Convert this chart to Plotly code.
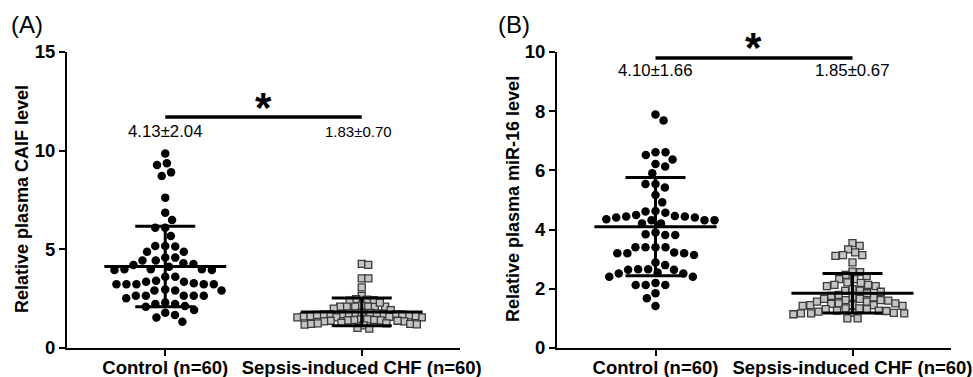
import numpy as np
import plotly.graph_objects as go

categories = ["Control (n=60)", "Sepsis-induced CHF (n=60)"]

caif_control = [9.86, 9.36, 9.27, 8.72, 8.90, 7.62, 6.86, 6.49, 6.10, 6.10,
                5.68, 5.17, 5.14, 5.17, 4.88, 4.88, 4.59, 4.58, 4.43, 4.43,
                4.29, 4.21, 4.26, 3.99, 3.99, 3.95, 3.95, 3.99, 4.12, 3.61,
                3.61, 3.36, 3.36, 3.28, 3.23, 3.23, 3.23, 3.23, 3.23, 3.41,
                2.91, 2.91, 2.97, 2.91, 2.65, 2.65, 2.52, 2.65, 2.65, 2.65,
                2.30, 2.23, 2.13, 2.23, 1.93, 1.79, 1.67, 1.55, 1.33, 2.09]
caif_chf = [4.26, 4.21, 3.53, 3.53, 3.07, 2.64, 2.47, 2.40, 2.45, 2.43,
            2.15, 2.10, 2.10, 2.10, 2.08, 2.10, 2.10, 2.30, 2.00, 1.92,
            1.75, 1.75, 1.72, 1.72, 1.70, 1.78, 1.78, 1.75, 1.72, 1.70,
            1.55, 1.55, 1.55, 1.58, 1.60, 1.62, 1.62, 1.65, 1.68, 1.70,
            1.45, 1.42, 1.40, 1.38, 1.35, 1.35, 1.38, 1.40, 1.42, 1.45,
            1.22, 1.20, 1.18, 1.22, 1.25, 1.25, 1.28, 1.15, 1.02, 0.98]
mir16_control = [7.89, 7.69, 6.61, 6.52, 6.61, 6.37, 6.22, 6.13, 5.90, 5.54,
                 5.54, 5.42, 5.17, 4.92, 4.57, 4.61, 4.63, 4.46, 4.44, 4.41,
                 4.32, 4.32, 4.21, 4.21, 4.32, 4.35, 4.41, 4.44, 4.49, 3.90,
                 3.82, 3.82, 3.84, 3.40, 3.40, 3.40, 3.40, 3.23, 3.20, 3.14,
                 3.20, 3.20, 2.89, 2.80, 2.64, 2.66, 2.66, 2.64, 2.52, 2.41,
                 2.41, 2.52, 2.13, 2.13, 2.20, 2.13, 1.85, 1.68, 1.42, 2.55]
mir16_chf = [3.54, 3.33, 3.45, 3.23, 3.14, 3.14, 3.11, 2.89, 2.56, 2.58,
             2.47, 2.33, 2.33, 2.43, 2.22, 2.13, 2.09, 2.09, 2.13, 2.20,
             1.99, 1.93, 1.79, 1.73, 1.76, 1.90, 1.94, 1.66, 1.62, 1.60,
             1.57, 1.51, 1.45, 1.45, 1.42, 1.42, 1.45, 1.49, 1.51, 1.57,
             1.62, 1.66, 1.71, 1.34, 1.31, 1.26, 1.23, 1.17, 1.14, 1.17,
             1.19, 1.17, 1.19, 1.25, 1.26, 1.31, 1.34, 1.00, 1.00, 1.85]

caif_mean = [4.13, 1.83]
caif_sd = [2.04, 0.70]
mir16_mean = [4.10, 1.85]
mir16_sd = [1.66, 0.67]
caif_labels = ["4.13±2.04", "1.83±0.70"]
mir16_labels = ["4.10±1.66", "1.85±0.67"]
caif_ticks = [0, 5, 10, 15]
mir16_ticks = [0, 2, 4, 6, 8, 10]
y_titles = ["Relative plasma CAIF level", "Relative plasma miR-16 level"]

FONT = "Liberation Sans, Arial, sans-serif"
XPX = 196.5  # px per x-unit
W = 884.0
H = 296.0
L = 67


def swarm(vals, ypx, d):
    vals = np.asarray(vals, dtype=float)
    order = np.argsort(-vals, kind="stable")
    placed = []
    offs = np.zeros(len(vals))
    flip = 1
    for i in order:
        y = vals[i] * ypx
        cands = [0.0]
        for (px, py) in placed:
            dy = y - py
            if abs(dy) < d:
                dx = np.sqrt(d * d - dy * dy)
                cands += [px + dx, px - dx]
        cands.sort(key=lambda c: (round(abs(c), 3), flip * c))
        chosen = 0.0
        for c in cands:
            if all((c - px) ** 2 + (y - py) ** 2 >= d * d - 1e-6 for px, py in placed):
                chosen = c
                break
        flip = -flip
        placed.append((chosen, y))
        offs[i] = chosen / XPX
    return offs


fig = go.Figure()

panels = [
    ("x", "y", caif_control, caif_chf, caif_mean, caif_sd, H / 15.0, 6.6),
    ("x2", "y2", mir16_control, mir16_chf, mir16_mean, mir16_sd, H / 10.0, 7.6),
]

for xa, ya, ctrl, chf, means, sds, ypx, dsq in panels:
    off_c = swarm(ctrl, ypx, 10.0)
    off_s = swarm(chf, ypx, dsq)
    fig.add_trace(go.Scatter(
        x=0 + off_c, y=ctrl, mode="markers", xaxis=xa, yaxis=ya,
        marker=dict(symbol="circle", size=8.5, color="black", line=dict(width=0)),
        showlegend=False, hoverinfo="y"))
    fig.add_trace(go.Scatter(
        x=1 + off_s, y=chf, mode="markers", xaxis=xa, yaxis=ya,
        marker=dict(symbol="square", size=7, color="#c4c4c4",
                    line=dict(width=1.3, color="#3a3a3a")),
        showlegend=False, hoverinfo="y"))
    fig.add_trace(go.Scatter(
        x=[0, 1], y=means, mode="markers", xaxis=xa, yaxis=ya,
        marker=dict(size=1, color="black", opacity=0),
        error_y=dict(type="data", array=sds, visible=True, color="black",
                     thickness=3, width=30),
        showlegend=False, hoverinfo="skip"))
    for i, m in enumerate(means):
        fig.add_shape(type="line", xref=xa, yref=ya, x0=i - 0.31, x1=i + 0.31,
                      y0=m, y1=m, line=dict(color="black", width=3))

# significance bars
sig = [("x", "y", 11.7, 107, 10.95, caif_labels, [0, 0.985], 16.8, 15, 0),
       ("x2", "y2", 9.8, 48, 9.39, mir16_labels, [0, 1.0], 16.8, 16.8, 490)]
for xa, ya, ly, star_py, ty, labels, tx, f1, f2, x0px in sig:
    fig.add_shape(type="line", xref=xa, yref=ya, x0=0, x1=1, y0=ly, y1=ly,
                  line=dict(color="black", width=3.5))
    star_x = (x0px + 98 + 196.5 * 0.5) / W
    fig.add_annotation(x=star_x, y=(348 - star_py) / H, xref="paper", yref="paper",
                       text="<b>*</b>", showarrow=False,
                       font=dict(size=42, color="black", family=FONT),
                       yanchor="middle", xanchor="center")
    fig.add_annotation(x=tx[0], y=ty, xref=xa, yref=ya, text=labels[0],
                       showarrow=False, font=dict(size=f1, color="black", family=FONT))
    fig.add_annotation(x=tx[1], y=ty, xref=xa, yref=ya, text=labels[1],
                       showarrow=False, font=dict(size=f2, color="black", family=FONT))

# panel letters
for txt, px in [("(A)", 10), ("(B)", 497)]:
    fig.add_annotation(x=(px - L) / W, y=(348 - 25) / H, xref="paper", yref="paper",
                       text=txt, showarrow=False, xanchor="left", yanchor="middle",
                       borderpad=0, font=dict(size=24, color="black", family=FONT))

# y-axis titles
for txt, px in zip(y_titles, [22, 513]):
    fig.add_annotation(x=(px - L) / W, y=(348 - 199) / H, xref="paper", yref="paper",
                       text=txt, showarrow=False, textangle=-90,
                       xanchor="center", yanchor="middle",
                       font=dict(size=18, color="black", family=FONT, weight="bold"))

tickfont = dict(size=18.5, color="black", family=FONT, weight="bold")
common_x = dict(range=[-0.5, 1.5], tickvals=[0, 1], ticktext=categories,
                showline=True, linecolor="black", linewidth=2, ticks="outside",
                ticklen=6, tickwidth=2, tickcolor="black", showgrid=False,
                zeroline=False, tickfont=tickfont, automargin=False,
                ticklabelstandoff=-4)
common_y = dict(showline=True, linecolor="black", linewidth=2, ticks="outside",
                ticklen=6, tickwidth=2, tickcolor="black", showgrid=False,
                zeroline=False, tickfont=tickfont, automargin=False)

fig.update_layout(
    width=973, height=377,
    margin=dict(l=L, r=22, t=52, b=29),
    paper_bgcolor="white", plot_bgcolor="white",
    font=dict(family=FONT, color="black"),
    xaxis=dict(domain=[0, 393 / W], **common_x),
    xaxis2=dict(domain=[490 / W, 1], anchor="y2", **common_x),
    yaxis=dict(range=[0, 15], tickvals=caif_ticks, anchor="x", **common_y),
    yaxis2=dict(range=[0, 10], tickvals=mir16_ticks, anchor="x2", **common_y),
)

fig.write_html("out.html", config={"displayModeBar": False},
               post_script="document.body.style.margin='0';document.body.style.overflow='hidden';")
